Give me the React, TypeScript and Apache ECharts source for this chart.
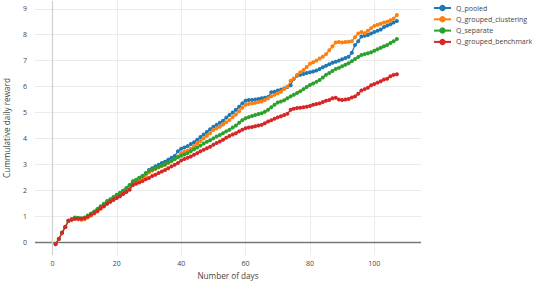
import React, { useEffect, useRef } from "react";
import * as echarts from "echarts";

const seriesNames = ["Q_pooled", "Q_grouped_clustering", "Q_separate", "Q_grouped_benchmark"];
const seriesColors = ["#1f77b4", "#ff7f0e", "#2ca02c", "#d62728"];

const qPooled = [
  -0.08, 0.12, 0.36, 0.58, 0.82, 0.88, 0.93, 0.92, 0.9, 0.93,
  1.0, 1.08, 1.15, 1.25, 1.35, 1.45, 1.55, 1.62, 1.72, 1.82,
  1.88, 1.98, 2.08, 2.18, 2.3, 2.38, 2.47, 2.55, 2.65, 2.78,
  2.85, 2.92, 2.98, 3.05, 3.1, 3.18, 3.25, 3.32, 3.5, 3.6,
  3.65, 3.7, 3.78, 3.85, 3.95, 4.05, 4.15, 4.25, 4.35, 4.45,
  4.52, 4.6, 4.68, 4.8, 4.9, 5.0, 5.1, 5.22, 5.35, 5.45,
  5.48, 5.48, 5.5, 5.52, 5.55, 5.57, 5.6, 5.78, 5.8, 5.85,
  5.88, 5.92, 5.98, 6.05, 6.3, 6.42, 6.45, 6.48, 6.52, 6.55,
  6.58, 6.62, 6.68, 6.74, 6.8, 6.86, 6.92, 6.96, 7.0, 7.05,
  7.1, 7.15, 7.3, 7.6, 7.75, 7.93, 7.96, 7.99, 8.05, 8.1,
  8.15, 8.2, 8.3, 8.35, 8.4, 8.47, 8.53,
];

const qGroupedClustering = [
  -0.08, 0.12, 0.36, 0.58, 0.82, 0.87, 0.9, 0.88, 0.86, 0.88,
  0.95, 1.02, 1.1, 1.18, 1.28, 1.38, 1.47, 1.55, 1.62, 1.72,
  1.8, 1.9, 2.0, 2.1, 2.22, 2.3, 2.38, 2.47, 2.57, 2.68,
  2.75, 2.82, 2.88, 2.93, 2.97, 3.05, 3.12, 3.2, 3.3, 3.43,
  3.48, 3.52, 3.6, 3.7, 3.8, 3.9, 4.0, 4.1, 4.2, 4.32,
  4.38, 4.45, 4.53, 4.62, 4.71, 4.82, 4.92, 5.05, 5.18, 5.3,
  5.33, 5.35, 5.37, 5.4, 5.42, 5.48, 5.55, 5.62, 5.68, 5.74,
  5.8, 5.9, 6.0, 6.22, 6.3, 6.45, 6.55, 6.64, 6.75, 6.88,
  6.94, 7.0, 7.08, 7.15, 7.25, 7.4, 7.55, 7.7, 7.72, 7.7,
  7.72, 7.73, 7.75, 7.9, 8.05, 8.1, 8.06, 8.15, 8.25, 8.34,
  8.38, 8.42, 8.47, 8.5, 8.56, 8.62, 8.76,
];

const qSeparate = [
  -0.08, 0.12, 0.36, 0.58, 0.82, 0.88, 0.95, 0.94, 0.92, 0.95,
  1.02, 1.1, 1.18, 1.28, 1.38, 1.48, 1.58, 1.65, 1.74, 1.82,
  1.9, 1.98, 2.08, 2.2, 2.35, 2.4, 2.48, 2.55, 2.65, 2.75,
  2.8, 2.85, 2.9, 2.95, 3.0, 3.07, 3.13, 3.2, 3.27, 3.33,
  3.38, 3.43, 3.5, 3.58, 3.65, 3.72, 3.8, 3.87, 3.93, 4.0,
  4.07, 4.13, 4.2, 4.27, 4.33, 4.42, 4.5, 4.6, 4.7, 4.78,
  4.82, 4.86, 4.9, 4.94, 4.97, 5.03, 5.1, 5.2, 5.3, 5.38,
  5.42, 5.47, 5.55, 5.62, 5.68, 5.75, 5.82, 5.9, 5.98, 6.06,
  6.12, 6.18, 6.25, 6.35, 6.45, 6.52, 6.6, 6.68, 6.72, 6.78,
  6.84, 6.9, 6.98, 7.06, 7.14, 7.22, 7.25, 7.28, 7.32, 7.38,
  7.44, 7.5, 7.55, 7.6, 7.68, 7.75, 7.83,
];

const qGroupedBenchmark = [
  -0.08, 0.12, 0.36, 0.58, 0.82, 0.86, 0.9, 0.9, 0.9, 0.92,
  0.98, 1.05, 1.12, 1.2, 1.3, 1.38, 1.48, 1.55, 1.63, 1.7,
  1.77, 1.85, 1.93, 2.02, 2.2, 2.25, 2.3, 2.35, 2.42, 2.47,
  2.55, 2.6, 2.66, 2.72, 2.78, 2.85, 2.92, 2.98, 3.05, 3.15,
  3.2, 3.25, 3.3, 3.37, 3.43, 3.5, 3.56, 3.62, 3.68, 3.75,
  3.82, 3.88, 3.95, 4.02, 4.09, 4.15, 4.2, 4.27, 4.33, 4.39,
  4.42, 4.44, 4.47, 4.5, 4.52, 4.58, 4.65, 4.7, 4.76, 4.81,
  4.85, 4.9, 4.95, 5.1, 5.14, 5.17, 5.18, 5.2, 5.22, 5.25,
  5.3, 5.33, 5.35, 5.4, 5.45, 5.48, 5.55, 5.57, 5.5, 5.48,
  5.5, 5.52, 5.58, 5.62, 5.72, 5.85, 5.9, 5.95, 6.05, 6.1,
  6.15, 6.2, 6.27, 6.3, 6.4, 6.45, 6.47,
];

const allSeries = [qPooled, qGroupedClustering, qSeparate, qGroupedBenchmark];
const xAxisTitle = "Number of days";
const yAxisTitle = "Cummulative daily reward";

const FONT = "'Open Sans', 'DejaVu Sans', sans-serif";

export default function App() {
  const ref = useRef<HTMLDivElement>(null);
  useEffect(() => {
    if (!ref.current) return;
    const chart = echarts.init(ref.current, undefined, { renderer: "svg" });
    const series: any[] = allSeries.map((vals, i) => ({
      name: seriesNames[i],
      type: "line",
      data: vals.map((v, d) => [d + 1, v]),
      symbol: "circle",
      symbolSize: 4,
      showSymbol: true,
      clip: false,
      color: seriesColors[i],
      lineStyle: { width: 1.3, color: seriesColors[i] },
      itemStyle: { color: seriesColors[i] },
      z: 3 + i,
    }));
    series.push({
      name: "zero",
      type: "line",
      data: [],
      silent: true,
      markLine: {
        silent: true,
        symbol: "none",
        z: 1,
        label: { show: false },
        data: [
          { yAxis: 0, lineStyle: { color: "#777777", width: 1.4, type: "solid" } },
          { xAxis: 0, lineStyle: { color: "#cfcfcf", width: 1.2, type: "solid" } },
        ],
      },
    });
    chart.setOption({
      animation: false,
      backgroundColor: "#ffffff",
      textStyle: { fontFamily: FONT },
      legend: {
        data: seriesNames,
        orient: "vertical",
        left: 433,
        top: 4,
        itemWidth: 17,
        itemHeight: 8,
        itemGap: 3.3,
        padding: 0,
        textStyle: { fontSize: 7, color: "#444444", fontFamily: FONT, lineHeight: 8 },
      },
      grid: { left: 35, right: 113, top: 1, bottom: 27, containLabel: false, outerBoundsMode: "none" },
      xAxis: {
        type: "value",
        min: -5.4,
        max: 114.5,
        minInterval: 20,
        maxInterval: 20,
        name: xAxisTitle,
        nameLocation: "middle",
        nameGap: 16,
        nameTextStyle: { fontSize: 8.2, color: "#444444", fontFamily: FONT },
        axisLine: { show: false },
        axisTick: { show: false },
        axisLabel: {
          fontSize: 7,
          color: "#444444",
          fontFamily: FONT,
          margin: 5,
          showMinLabel: false,
          showMaxLabel: false,
        },
        splitLine: {
          show: true,
          showMinLine: false,
          showMaxLine: false,
          lineStyle: { color: "#ebebeb", width: 1 },
        },
      },
      yAxis: {
        type: "value",
        min: -0.5,
        max: 9.3,
        minInterval: 1,
        maxInterval: 1,
        name: yAxisTitle,
        nameLocation: "middle",
        nameRotate: 90,
        nameGap: 25,
        nameTextStyle: { fontSize: 8.2, color: "#444444", fontFamily: FONT },
        axisLine: { show: false },
        axisTick: { show: false },
        axisLabel: {
          fontSize: 7,
          color: "#444444",
          fontFamily: FONT,
          margin: 8,
          showMinLabel: false,
          showMaxLabel: false,
        },
        splitLine: {
          show: true,
          showMinLine: false,
          showMaxLine: false,
          lineStyle: { color: "#ebebeb", width: 1 },
        },
      },
      series,
    });
    return () => chart.dispose();
  }, []);
  return (
    <div
      ref={ref}
      style={{ position: "fixed", left: 0, top: 0, width: 534, height: 282, background: "#fff" }}
    />
  );
}
